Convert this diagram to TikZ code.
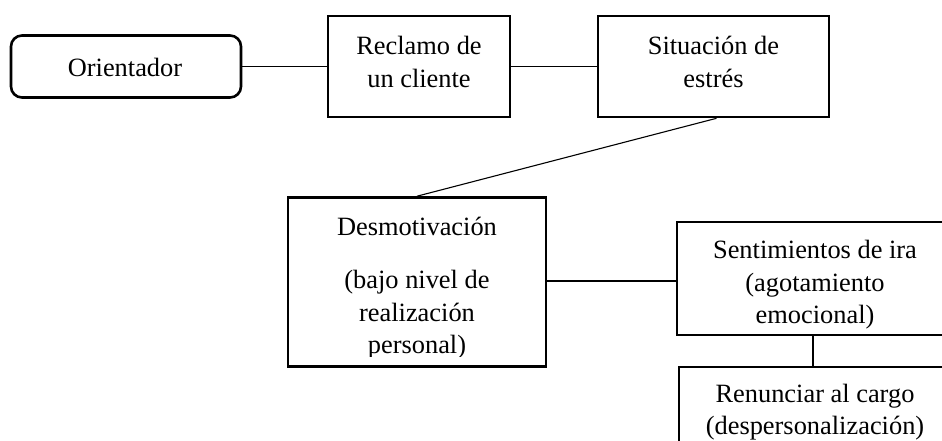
\documentclass[tikz,border=0pt]{standalone}
\usepackage{fontspec}
\setmainfont{Liberation Serif}
\begin{document}
\begin{tikzpicture}[x=1pt,y=-1pt,
  box/.style={draw=black, line width=2.6pt, fill=white, inner sep=0pt},
  rbox/.style={box, rounded corners=11pt},
  txt/.style={inner sep=0pt, align=center, font=\fontsize{26.4}{32.5}\selectfont},
  conn/.style={draw=black, line width=1.1pt}]
\clip (0,0) rectangle (942,441);
\fill[white] (0,0) rectangle (942,441);
% top row
\node[rbox, minimum width=230, minimum height=62] (ori) at (126,66.5) {};
\node[txt] (oritxt) at (125,67) {Orientador};
\node[box, minimum width=182, minimum height=101] (rec) at (419,66.5) {};
\node[txt] (rectxt) at (419,62) {Reclamo de\\un cliente};
\node[box, minimum width=231, minimum height=101] (sit) at (713.5,66.5) {};
\node[txt] (sittxt) at (713.5,62) {Situación de\\estrés};
% middle
\node[box, minimum width=258, minimum height=169] (des) at (417,282) {};
\begin{scope}
  \clip (290,199) rectangle (544,356.5);
  \node[txt] (destxt) at (417,288) {Desmotivación\\[21pt](bajo nivel de\\realización\\personal)};
\end{scope}
% right
\node[box, minimum width=276, minimum height=113] (sen) at (815,278.5) {};
\node[txt] (sentxt) at (815,285) {Sentimientos de ira\\(agotamiento\\emocional)};
\node[box, minimum width=272, minimum height=120] (ren) at (815,427) {};
\node[txt] (rentxt) at (815,412) {Renunciar al cargo\\(despersonalización)};
% connectors
\draw[conn] (ori.east) -- (rec.west);
\draw[conn] (rec.east) -- (sit.west);
\draw[conn] ([xshift=3pt]sit.south) -- (des.north);
\draw[conn] (des.east |- 0,281) -- (sen.west |- 0,281);
\draw[conn] ([xshift=-2pt]sen.south) -- ([xshift=-2pt]ren.north);
\end{tikzpicture}
\end{document}
